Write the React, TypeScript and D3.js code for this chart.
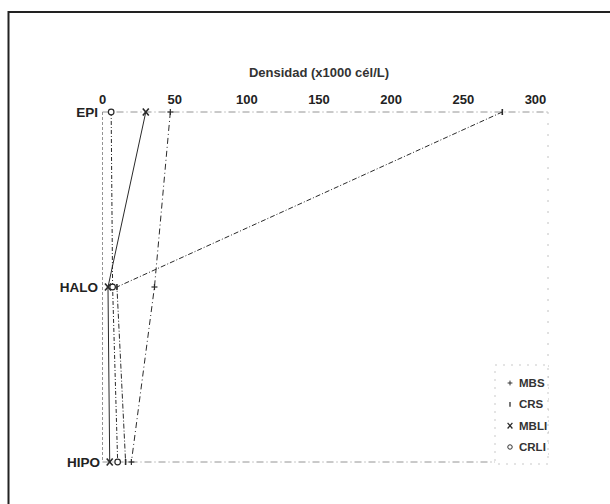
import * as d3 from 'd3';

const W = 610;
const H = 504;

const depths = ['EPI', 'HALO', 'HIPO'];
const xTicks = [0, 50, 100, 150, 200, 250, 300];
const seriesNames = ['MBS', 'CRS', 'MBLI', 'CRLI'];
const mbs = [47, 36, 20];
const crs = [277, 10, 16];
const mbli = [30, 3.8, 5];
const crli = [6, 7, 10.5];

const seriesValues = [mbs, crs, mbli, crli];
const seriesDash = ['6,3,1,3', '5,2,1,2', 'none', '4,2,1,2'];

const ink = '#2a2a2a';

function Marker({ kind, x, y }: { kind: string; x: number; y: number }) {
    if (kind === 'MBS') {
        return (
            <g stroke={ink} strokeWidth={1.2}>
                <line x1={x - 3} x2={x + 3} y1={y} y2={y} />
                <line x1={x} x2={x} y1={y - 3} y2={y + 3} />
            </g>
        );
    }
    if (kind === 'CRS') {
        return (
            <g stroke={ink} strokeWidth={1.6}>
                <line x1={x} x2={x} y1={y - 3} y2={y + 3} />
            </g>
        );
    }
    if (kind === 'MBLI') {
        return (
            <g stroke={ink} strokeWidth={1.6}>
                <line x1={x - 3} x2={x + 3} y1={y - 3.5} y2={y + 3.5} />
                <line x1={x - 3} x2={x + 3} y1={y + 3.5} y2={y - 3.5} />
            </g>
        );
    }
    return <circle cx={x} cy={y} r={2.8} fill="#fff" stroke={ink} strokeWidth={1.2} />;
}

export default function App() {
    // plot area
    const x = d3.scaleLinear().domain([0, 300]).range([102.5, 535.5]);
    const y = d3.scalePoint<string>().domain(depths).range([112, 462]);
    const right = 548;

    const line = d3
        .line<number>()
        .x((d) => x(d))
        .y((_, i) => y(depths[i]) as number);

    const legendY = d3.scalePoint<string>().domain(seriesNames).range([383, 447]);

    return (
        <div style={{ position: 'fixed', left: 0, top: 0, background: '#fff' }}>
            <svg width={W} height={H} style={{ display: 'block', fontFamily: '"Liberation Sans", Arial, sans-serif' }}>
                <rect width={W} height={H} fill="#fff" />
                {/* outer frame (scan edge) */}
                <line x1={8.5} x2={8.5} y1={11} y2={H} stroke="#222" strokeWidth={2} />
                <line x1={8} x2={W} y1={12} y2={12} stroke="#222" strokeWidth={2} />

                {/* plot frame */}
                <g stroke="#888" strokeWidth={0.9} fill="none" strokeDasharray="7,3,1,3">
                    <line x1={x(0)} x2={right} y1={y('EPI')} y2={y('EPI')} />
                    <line x1={x(0)} x2={x(0)} y1={y('EPI')} y2={y('HIPO')} strokeDasharray="3,2" />
                    <line x1={x(0)} x2={right} y1={y('HIPO')} y2={y('HIPO')} />
                    <line x1={right} x2={right} y1={y('EPI')} y2={y('HIPO')} stroke="#bbb" strokeDasharray="2,9" />
                </g>

                <text x={319} y={77} textAnchor="middle" fontSize={13} fontWeight="bold" fill="#333">
                    Densidad (x1000 cél/L)
                </text>

                {xTicks.map((t) => (
                    <text key={t} x={x(t)} y={104} textAnchor="middle" fontSize={13} fontWeight="bold" fill="#222">
                        {t}
                    </text>
                ))}

                {depths.map((d) => (
                    <text
                        key={d}
                        x={d === 'HIPO' ? 100 : 98}
                        y={(y(d) as number) + 5}
                        textAnchor="end"
                        fontSize={13.5}
                        fontWeight="bold"
                        fill="#222"
                    >
                        {d}
                    </text>
                ))}

                {seriesValues.map((vals, si) => (
                    <g key={seriesNames[si]}>
                        <path
                            d={line(vals) ?? ''}
                            fill="none"
                            stroke={ink}
                            strokeWidth={1}
                            strokeDasharray={seriesDash[si]}
                        />
                        {vals.map((v, i) => (
                            <Marker key={i} kind={seriesNames[si]} x={x(v)} y={y(depths[i]) as number} />
                        ))}
                    </g>
                ))}

                {/* legend */}
                <rect
                    x={495}
                    y={365}
                    width={right - 495}
                    height={99}
                    fill="#fff"
                    stroke="#bbb"
                    strokeWidth={0.8}
                    strokeDasharray="2,6"
                />
                {seriesNames.map((s) => (
                    <g key={s}>
                        <g transform="scale(0.8)" style={{ transformOrigin: `510px ${legendY(s)}px` }}>
                            <Marker kind={s} x={510} y={legendY(s) as number} />
                        </g>
                        <text x={519} y={(legendY(s) as number) + 4} fontSize={11.5} fontWeight="bold" fill="#333">
                            {s}
                        </text>
                    </g>
                ))}
            </svg>
        </div>
    );
}
